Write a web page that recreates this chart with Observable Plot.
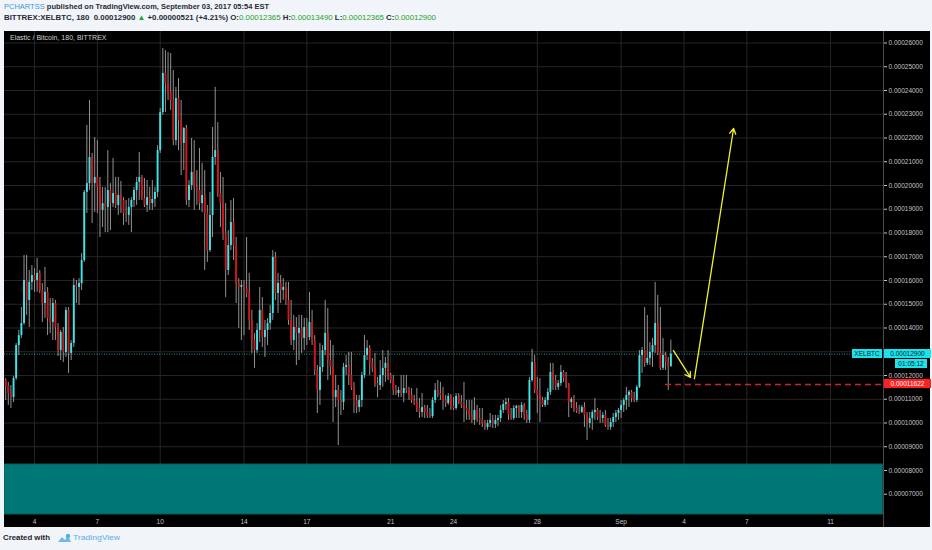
<!DOCTYPE html>
<html><head><meta charset="utf-8">
<script src="https://cdn.jsdelivr.net/npm/d3@7"></script>
<script src="https://cdn.jsdelivr.net/npm/@observablehq/plot@0.6"></script>
<style>
html,body{margin:0;padding:0;background:#f1f4f8;width:932px;height:550px;overflow:hidden;font-family:"Liberation Sans",Arial,sans-serif}
.abs{position:absolute;white-space:nowrap}
.fit{transform-origin:0 50%}
#hdr1,#hdr2{left:4px;font-size:7.5px;line-height:10px;color:#262a35;font-weight:bold}
#hdr1{top:2px}
#hdr2{top:13px}
.blue{color:#3e9bd6;font-weight:normal}
.green{color:#21a32c;font-weight:normal}
#pane{left:4px;top:31px;width:926px;height:496px;background:#000}
#chart{left:4px;top:31px}
#title{left:10px;top:34px;font-size:7px;line-height:8px;color:#cfcfcf}
.box{font-size:6.5px;line-height:9px;height:9px;text-align:center;color:#0a1a1a}
#footer{left:3px;top:533px;font-size:7.5px;line-height:10px;color:#1e222d;font-weight:bold}
#tv{left:73px;top:533px;font-size:7.5px;line-height:10px;color:#59aee6}
</style></head><body>
<div id="hdr1" class="abs fit"><span class="blue">PCHARTSS</span> published on TradingView.com, September 03, 2017 05:54 EST</div>
<div id="hdr2" class="abs fit">BITTREX:XELBTC, 180&nbsp; 0.00012900 <span class="green">▲</span> +0.00000521 (+4.21%) O:<span class="green">0.00012365</span> H:<span class="green">0.00013490</span> L:<span class="green">0.00012365</span> C:<span class="green">0.00012900</span></div>
<div id="pane" class="abs"></div>
<div id="chart" class="abs"></div>
<div id="title" class="abs">Elastic / Bitcoin, 180, BITTREX</div>
<div id="footer" class="abs fit">Created with</div>
<svg class="abs" style="left:57px;top:533px" width="15" height="10" viewBox="0 0 15 10"><path d="M1 9 L5 4 L8 7 L11 2 L14 9 Z" fill="#59aee6" opacity="0.85"/><circle cx="11" cy="3" r="2.2" fill="#59aee6"/></svg>
<div id="tv" class="abs fit">TradingView</div>
<script>
// 180-minute bars of XEL/BTC on Bittrex, prices in satoshi (1e-8 BTC)
const open = [
11790,11540,11240,11070,11870,13260,13680,14190,16000,15160,
15920,16210,16000,16300,15580,15030,15500,14400,14230,15030,
14020,13050,13810,12970,14740,12930,13350,15790,15710,15870,
16840,19710,20080,21180,20080,20340,19920,18950,19240,19070,
19790,19240,19660,19160,19580,19370,18820,18740,19070,19370,
19790,20130,20340,19450,19160,19490,19240,19410,19710,21470,
23070,24720,24290,23920,23580,21890,23660,22740,21770,22400,
19370,20000,20550,19920,19790,19240,19580,18820,17260,18740,
21180,21470,19660,19240,17980,16420,17470,18440,17470,15870,
15710,15790,15660,15450,14320,13470,13050,13900,14740,13600,
13900,14190,14610,16970,15450,15870,15580,15710,15160,14320,
13470,14020,13770,13980,13560,14020,13600,14230,13470,12210,
11370,12340,13050,13770,12630,12340,11070,11370,10950,10860,
12340,12420,12000,11500,10950,10650,10950,12000,12840,13140,
12510,12300,11660,11580,12000,12300,12510,12000,11790,11370,
11240,11370,11240,11450,11370,11160,10950,10860,10610,10440,
10650,10440,10320,10270,10950,11370,11240,11160,10950,10820,
11120,10700,10610,11120,10860,10740,10610,10530,10320,10110,
10530,10190,10110,9980,9810,9980,10110,9940,10110,10190,
10530,10780,10860,10320,10190,10610,10700,10440,10740,10320,
10110,11790,12550,11370,11160,10950,10740,10950,11290,12130,
11790,11500,11660,12130,11870,11580,10860,10990,10610,10490,
10440,10650,10320,9980,10190,10440,10530,10230,10190,10320,
9900,9810,10020,10230,10400,10530,10740,10950,11160,11290,
11030,10950,11500,12840,13050,12510,12720,12970,13260,14190,
12930,12300,12840,12550,12365];
const high = [
11870,11710,11580,11960,13350,13900,14860,17050,17050,16420,
16630,16500,16930,16420,15870,16550,15700,15240,15240,15160,
14190,13900,14020,14860,14860,13470,16080,16000,16080,17140,
19790,22530,23580,21350,22020,21890,20340,19920,19920,21470,
20080,21140,20340,20340,20170,19490,19370,19450,19490,19920,
20340,21390,20420,20290,20210,19920,20210,19920,21680,23240,
25770,25680,25600,25560,24840,24130,24500,23580,22440,22530,
20210,21980,21890,20630,21560,20930,20630,19160,19710,22440,
24130,22650,20550,20340,19240,18100,19370,19450,17810,16080,
16000,16000,17810,16300,14740,13770,14190,15700,15280,14320,
14400,14950,17260,17180,16300,16210,16080,15920,15920,15160,
14530,14440,14530,14530,14400,14400,15500,14740,13680,12420,
13350,13260,15160,14820,13470,13260,12000,11580,11370,12510,
12840,12970,12970,11710,11160,11160,12130,13680,13470,13260,
12720,12930,11920,12630,13050,12760,13050,12090,12000,11580,
11500,12000,12000,12000,11500,11450,11160,11450,11030,11240,
10740,10740,10610,11070,11660,11790,11710,11500,11160,11240,
11200,11070,11240,11240,11160,11710,10950,10950,10950,11070,
10740,10610,10610,10110,10110,10400,10320,10320,10320,10740,
10950,11030,11030,10610,10740,10740,10740,10860,10820,10530,
11920,13100,12840,11920,11870,11070,11070,11450,12510,12510,
12000,11790,12420,12210,12130,11660,11070,11160,10860,10740,
10740,10860,10440,10440,10530,11030,10610,10530,10440,10530,
10190,10190,10400,10530,10610,10950,11030,11500,11370,11370,
11290,11580,13050,13180,14860,14530,13390,13560,15920,15370,
14860,13560,12970,12760,13490];
const low = [
10950,10740,10610,10860,11790,12840,13560,14110,14530,14020,
15580,15500,15500,15450,14230,14400,13680,13770,13470,13470,
12800,12630,12550,12760,12090,12630,13180,15030,14950,15580,
16760,18820,19790,18400,18860,18820,17810,18230,18020,18020,
18100,19070,19030,18740,18820,18320,18440,18320,18020,19070,
19160,19370,19370,19070,18860,18950,18950,19070,19490,21350,
22950,23070,23580,23160,21680,21680,21470,20420,20630,19160,
19070,19790,18950,19160,18950,18860,16420,16760,17180,17810,
20840,19490,18230,17680,15280,16210,17260,16840,15030,13980,
13470,13680,15280,13900,12930,12300,12930,13390,13180,12760,
13260,13900,14320,15160,14610,15030,15160,14950,14110,13260,
13050,12420,12630,12930,13050,13260,13470,13260,12000,10400,
10740,12130,12840,11790,12000,10020,10650,9050,10320,10530,
12000,11580,11370,10400,10400,10440,10650,11870,12630,12000,
12130,11500,11070,11370,11500,11710,11790,11660,11160,11160,
11070,11070,10860,11240,10950,10820,10740,10440,10190,10230,
10190,10190,10190,10190,10820,11070,10950,10530,10650,10740,
10530,10530,10530,10780,10610,10020,10110,10110,9980,9900,
10020,9900,9810,9690,9690,9810,9770,9770,9850,10020,
10400,10530,10110,10110,10110,10190,10190,10190,10110,9980,
9980,11710,11240,10400,10020,10650,10650,10740,11160,11370,
11370,11370,11540,11710,11450,10230,10610,10440,10400,10360,
10400,9810,9260,9770,9690,10110,10110,9980,9980,9810,
9690,9690,9810,10020,10110,10190,10440,10530,10650,10860,
10860,10860,11450,12090,12340,12420,12420,12340,12930,12840,
12210,12210,12210,11370,12365];
const close = [
11540,11240,11070,11870,13260,13680,14190,16000,15160,15920,
16210,16000,16300,15580,15030,15500,14400,14230,15030,14020,
13050,13810,12970,14740,12930,13350,15790,15710,15870,16840,
19710,20080,21180,20080,20340,19920,18950,19240,19070,19790,
19240,19660,19160,19580,19370,18820,18740,19070,19370,19790,
20130,20340,19450,19160,19490,19240,19410,19710,21470,23070,
24720,24290,23920,23580,21890,23660,22740,21770,22400,19370,
20000,20550,19920,19790,19240,19580,18820,17260,18740,21180,
21470,19660,19240,17980,16420,17470,18440,17470,15870,15710,
15790,15660,15450,14320,13470,13050,13900,14740,13600,13900,
14190,14610,16970,15450,15870,15580,15710,15160,14320,13470,
14020,13770,13980,13560,14020,13600,14230,13470,12210,11370,
12340,13050,13770,12630,12340,11070,11370,10950,10860,12340,
12420,12000,11500,10950,10650,10950,12000,12840,13140,12510,
12300,11660,11580,12000,12300,12510,12000,11790,11370,11240,
11370,11240,11450,11370,11160,10950,10860,10610,10440,10650,
10440,10320,10270,10950,11370,11240,11160,10950,10820,11120,
10700,10610,11120,10860,10740,10610,10530,10320,10110,10530,
10190,10110,9980,9810,9980,10110,9940,10110,10190,10530,
10780,10860,10320,10190,10610,10700,10440,10740,10320,10110,
11790,12550,11370,11160,10950,10740,10950,11290,12130,11790,
11500,11660,12130,11870,11580,10860,10990,10610,10490,10440,
10650,10320,9980,10190,10440,10530,10230,10190,10320,9900,
9810,10020,10230,10400,10530,10740,10950,11160,11290,11030,
10950,11500,12840,13050,12510,12720,12970,13260,14190,12930,
12300,12840,12550,12365,12900];

const firstBar = "2017-08-02T15:00:00Z";      // bars are 180 minutes apart
const barMinutes = 180;
const lastPrice = 12900;                        // XELBTC last
const countdown = "01:05:12";
const xTickDates = ["2017-08-04","2017-08-07","2017-08-10","2017-08-14","2017-08-17","2017-08-21","2017-08-24","2017-08-28","2017-09-01","2017-09-04","2017-09-07","2017-09-11"];
const xTickLabels = ["4","7","10","14","17","21","24","28","Sep","4","7","11"];
const yTicks = [7000,8000,9000,10000,11000,12000,13000,14000,15000,16000,17000,18000,19000,20000,21000,22000,23000,24000,25000,26000];
const hiddenYLabels = [13000];                  // covered by the last-price label in the reference
const xDomain = ["2017-08-02T13:38:00Z","2017-09-13T12:36:00Z"];
const yDomain = [6105, 26484];
// drawings on the chart
const zones = [{from:"2017-08-02T14:10:00Z", to:"2017-09-13T11:50:00Z", lo:6150, hi:8250}];
const levels = [{from:"2017-09-03T02:50:00Z", to:"2017-09-13T12:36:00Z", price:11622}];
const arrows = [
  {t1:"2017-09-03T12:00:00Z", p1:13050, t2:"2017-09-04T07:30:00Z", p2:11920},
  {t1:"2017-09-04T12:00:00Z", p1:11870, t2:"2017-09-06T08:50:00Z", p2:22400}
];

const t0 = new Date(firstBar).getTime();
const candles = close.map((c, i) => ({
  date: new Date(t0 + i * barMinutes * 60000),
  open: open[i], high: high[i], low: low[i], close: c
}));
const xTicks = xTickDates.map(d => new Date(d + "T00:00:00Z"));
const labelOf = new Map(xTicks.map((d, i) => [d.getTime(), xTickLabels[i]]));
const zoneData = zones.map(z => ({...z, from: new Date(z.from), to: new Date(z.to)}));
const levelData = levels.map(l => ({...l, from: new Date(l.from), to: new Date(l.to)}));
const arrowData = arrows.map(a => ({...a, t1: new Date(a.t1), t2: new Date(a.t2)}));

const chart = Plot.plot({
  width: 926, height: 496,
  marginLeft: 0, marginRight: 47, marginTop: 0, marginBottom: 12,
  style: {background: "transparent", color: "#c4c4c4", fontSize: "6.5px", fontFamily: "'Liberation Sans', Arial, sans-serif"},
  x: {type: "utc", domain: xDomain.map(d => new Date(d)), ticks: xTicks, tickFormat: d => labelOf.get(d.getTime()) ?? "", tickSize: 0, tickPadding: 4, label: null},
  y: {domain: yDomain, axis: "right", ticks: yTicks, tickFormat: d => hiddenYLabels.includes(d) ? "" : (d / 1e8).toFixed(8), tickSize: 3, tickPadding: 2, label: null},
  marks: [
    Plot.ruleY(yTicks, {stroke: "#262626", strokeWidth: 1}),
    Plot.ruleX(xTicks, {stroke: "#262626", strokeWidth: 1}),
    Plot.rect(zoneData, {x1: "from", x2: "to", y1: "lo", y2: "hi", fill: "#008080", fillOpacity: 0.93, stroke: "#0b6363", strokeWidth: 1}),
    Plot.ruleY([lastPrice], {stroke: "#35b8c4", strokeWidth: 0.8, strokeDasharray: "1,1.5"}),
    Plot.ruleX(candles, {x: "date", y1: "low", y2: "high", stroke: "#a3a3a3", strokeWidth: 0.9}),
    Plot.ruleX(candles, {filter: d => d.close >= d.open, x: "date", y1: "open", y2: "close", stroke: "#3ee6ea", strokeWidth: 1.9}),
    Plot.ruleX(candles, {filter: d => d.close < d.open, x: "date", y1: "open", y2: "close", stroke: "#d0181b", strokeWidth: 1.9}),
    Plot.ruleY(levelData, {y: "price", x1: "from", x2: "to", stroke: "#c9262b", strokeWidth: 1.5, strokeDasharray: "6,4"}),
    Plot.arrow(arrowData, {x1: "t1", y1: "p1", x2: "t2", y2: "p2", stroke: "#f2f22c", strokeWidth: 1.3, headLength: 7})
  ]
});
document.getElementById("chart").appendChild(chart);

// price-scale labels
const ys = chart.scale("y");
function box(text, left, width, top, bg, color) {
  const d = document.createElement("div");
  d.className = "abs box";
  d.textContent = text;
  Object.assign(d.style, {left: left + "px", width: width + "px", top: top + "px", background: bg, color: color});
  document.body.appendChild(d);
}
const yLast = 31 + ys.apply(lastPrice) - 4.5;
box("XELBTC", 852, 30, yLast, "#19e3ec", "#0a1a1a");
box((lastPrice / 1e8).toFixed(8), 884, 47, yLast, "#19e3ec", "#0a1a1a");
box(countdown, 895, 32, yLast + 10, "#19e3ec", "#0a1a1a");
const yLvl = 31 + ys.apply(levels[0].price) - 4.5;
box((levels[0].price / 1e8).toFixed(8), 884, 47, yLvl, "#ff1f1f", "#ffffff");

// frame line of the price scale
const vline = document.createElement("div");
vline.className = "abs";
Object.assign(vline.style, {left: "883px", top: "31px", width: "1px", height: "496px", background: "#4a4a4a"});
document.body.appendChild(vline);

// fit header/footer text widths
function fit(id, w) {
  const el = document.getElementById(id);
  const nat = el.getBoundingClientRect().width;
  el.style.transform = `scaleX(${w / nat})`;
}
fit("hdr1", 265); fit("hdr2", 432); fit("footer", 47); fit("tv", 47);
</script>
</body></html>
